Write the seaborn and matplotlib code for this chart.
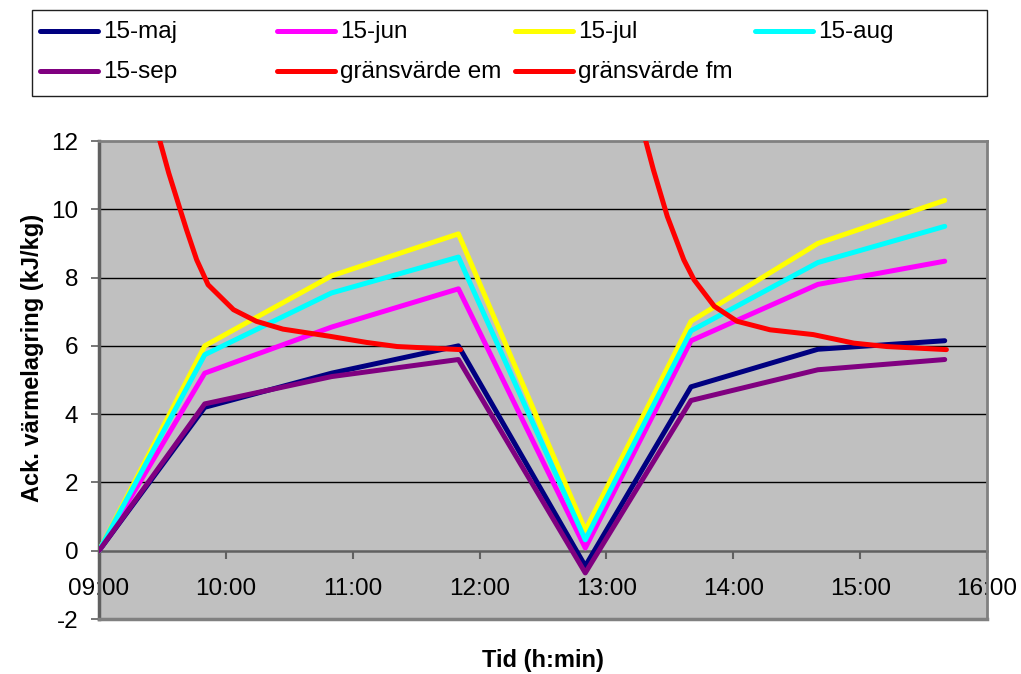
import numpy as np
import pandas as pd
import matplotlib
matplotlib.use("Agg")
import matplotlib.pyplot as plt
from matplotlib.lines import Line2D
from matplotlib.patches import Rectangle
import seaborn as sns

# ---------------- data ----------------
times = ["09:00", "09:50", "10:50", "11:50", "12:50", "13:40", "14:40", "15:40"]
maj = [0, 4.2, 5.2, 6.0, -0.45, 4.8, 5.9, 6.15]
jun = [0, 5.2, 6.55, 7.67, 0.08, 6.15, 7.8, 8.48]
jul = [0, 6.0, 8.05, 9.28, 0.6, 6.72, 9.0, 10.26]
aug = [0, 5.74, 7.55, 8.6, 0.32, 6.44, 8.44, 9.5]
sep = [0, 4.3, 5.1, 5.6, -0.65, 4.4, 5.3, 5.6]

# limit curves (time in decimal hours)
fm_time = [9.43, 9.48, 9.55, 9.64, 9.69, 9.77, 9.86, 10.06, 10.24, 10.45, 10.82, 11.11, 11.35, 11.85]
fm_val = [12.7, 12.0, 11.06, 9.99, 9.4, 8.52, 7.79, 7.06, 6.72, 6.49, 6.28, 6.10, 5.98, 5.89]
em_time = [13.27, 13.31, 13.37, 13.48, 13.61, 13.69, 13.85, 14.03, 14.29, 14.63, 14.95, 15.21, 15.68]
em_val = [12.6, 12.0, 11.16, 9.79, 8.52, 7.94, 7.16, 6.72, 6.47, 6.33, 6.08, 5.98, 5.89]

series_names = ["15-maj", "15-jun", "15-jul", "15-aug", "15-sep", "gränsvärde em", "gränsvärde fm"]
colors = ["#000080", "#FF00FF", "#FFFF00", "#00FFFF", "#800080", "#FF0000", "#FF0000"]

xtick_labels = ["09:00", "10:00", "11:00", "12:00", "13:00", "14:00", "15:00", "16:00"]
ytick_vals = [-2, 0, 2, 4, 6, 8, 10, 12]


def to_hours(s):
    h, m = s.split(":")
    return int(h) + int(m) / 60.0


x_main = [to_hours(t) for t in times]

# ---------------- figure ----------------
plt.rcParams["font.family"] = ["Liberation Sans", "DejaVu Sans"]
W, H = 1021, 674
fig = plt.figure(figsize=(W / 100, H / 100), dpi=100)
fig.patch.set_facecolor("white")


def fx(x):
    return x / W


def fy(y):
    return 1 - y / H


left, right, top, bottom = 99, 987, 141, 619
ax = fig.add_axes([fx(left), fy(bottom), fx(right - left), fy(top) - fy(bottom)])
ax.set_facecolor("#C0C0C0")

LW = 3.6
main_series = [maj, jun, jul, aug, sep]
for name, vals, col in zip(series_names[:5], main_series, colors[:5]):
    df = pd.DataFrame({"t": x_main, "v": vals})
    sns.lineplot(data=df, x="t", y="v", ax=ax, color=col, lw=LW, legend=False,
                 solid_capstyle="round", solid_joinstyle="round", zorder=3)

for name, tt, vv in [("gränsvärde em", em_time, em_val), ("gränsvärde fm", fm_time, fm_val)]:
    df = pd.DataFrame({"t": tt, "v": vv})
    sns.lineplot(data=df, x="t", y="v", ax=ax, color="#FF0000", lw=LW, legend=False,
                 solid_capstyle="round", solid_joinstyle="round", zorder=3)

ax.set_xlim(9, 16)
ax.set_ylim(-2, 12)

# gridlines
for yv in ytick_vals:
    if yv in (-2, 0, 12):
        continue
    ax.axhline(yv, color="black", lw=1.0, zorder=1)

# spines
ax.spines["bottom"].set_position(("data", 0))
ax.spines["bottom"].set_color("#606060")
ax.spines["bottom"].set_linewidth(1.8)
ax.spines["bottom"].set_zorder(2)
ax.spines["left"].set_color("#606060")
ax.spines["left"].set_linewidth(2.5)
for s in ("top", "right"):
    ax.spines[s].set_color("#808080")
    ax.spines[s].set_linewidth(2.0)
ax.axhline(-2, color="#808080", lw=2.5, clip_on=False, zorder=5)

ax.set_xticks(range(9, 17))
ax.set_xticklabels(xtick_labels)
ax.set_yticks(ytick_vals)
ax.set_yticklabels([str(v) for v in ytick_vals])
ax.tick_params(axis="x", direction="out", length=6, width=1.5, color="#606060",
               labelsize=17.5, pad=14)
ax.tick_params(axis="y", direction="out", length=6, width=1.2, color="#606060",
               labelsize=17.5, pad=9)

ax.set_xlabel("")
ax.set_ylabel("")
fig.text(fx(543), fy(661), "Tid (h:min)", ha="center", va="center",
         fontsize=17, fontweight="bold")
fig.text(fx(33), fy(358), "Ack. värmelagring (kJ/kg)", ha="center", va="center",
         rotation=90, fontsize=17, fontweight="bold")

# ---------------- legend (manual, Excel style) ----------------
fig.add_artist(Rectangle((fx(32), fy(96)), fx(987 - 32), fy(10) - fy(96),
                         transform=fig.transFigure, facecolor="white",
                         edgecolor="#202020", lw=1.0))
col_x = [40, 277, 515, 755]
row_y = [31, 71]
for i, (name, col) in enumerate(zip(series_names, colors)):
    r, c = divmod(i, 4)
    x0 = col_x[c]
    y0 = row_y[r]
    fig.add_artist(Line2D([fx(x0), fx(x0 + 58)], [fy(y0), fy(y0)],
                          transform=fig.transFigure, color=col, lw=LW,
                          solid_capstyle="round"))
    fig.text(fx(x0 + 63), fy(y0 + 1), name, ha="left", va="center", fontsize=17.5)

fig.savefig("out.png", dpi=100)
